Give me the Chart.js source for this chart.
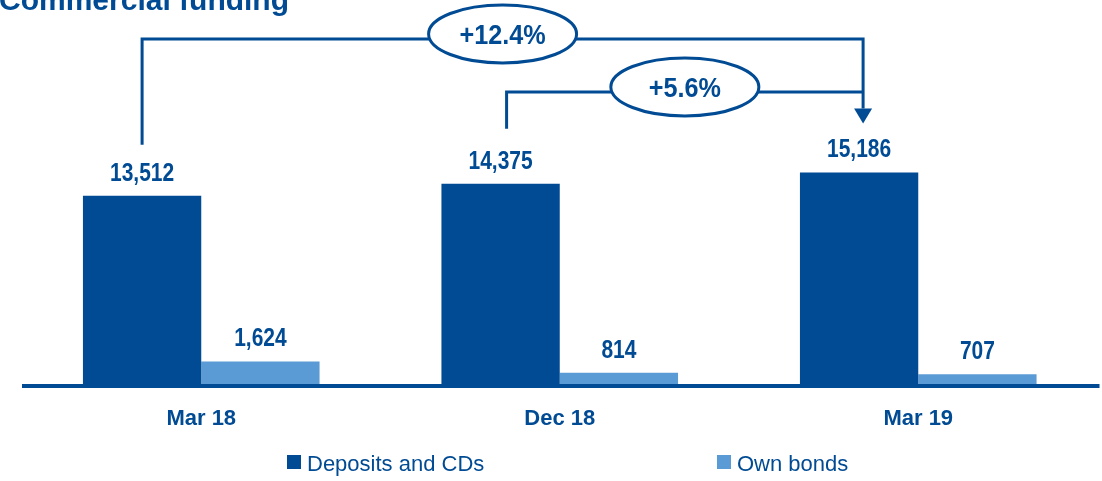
<!DOCTYPE html>
<html>
<head>
<meta charset="utf-8">
<script src="https://cdn.jsdelivr.net/npm/chart.js@4.4.1/dist/chart.umd.min.js"></script>
<style>
  body { margin: 0; background: #fff; }
  #wrap { width: 1102px; height: 481px; }
</style>
</head>
<body>
<div id="wrap"><canvas id="bar-chart" width="1102" height="481"></canvas></div>
<script>
const periods = ['Mar 18', 'Dec 18', 'Mar 19'];
const deposits = [13512, 14375, 15186];
const ownBonds = [1624, 814, 707];
const seriesNames = ['Deposits and CDs', 'Own bonds'];
const growthLabels = ['+12.4%', '+5.6%'];

const darkBlue = '#004B93';
const lightBlue = '#5B9BD5';
const sans = '"Liberation Sans", Arial, sans-serif';

// narrow-looking bold text: squeeze Liberation Sans horizontally
function narrowText(ctx, text, x, y, size, squeeze) {
  ctx.save();
  ctx.translate(x, y);
  ctx.scale(squeeze || 0.84, 1);
  ctx.font = 'bold ' + size + 'px ' + sans;
  ctx.textAlign = 'center';
  ctx.textBaseline = 'middle';
  ctx.fillText(text, 0, 0);
  ctx.restore();
}

function bubble(ctx, cx, cy, text) {
  ctx.beginPath();
  ctx.ellipse(cx, cy - 5, 74, 29, 0, 0, Math.PI * 2);
  ctx.fillStyle = '#fff';
  ctx.fill();
  ctx.stroke();
  ctx.fillStyle = darkBlue;
  narrowText(ctx, text, cx, cy - 3, 28, 0.9);
}

const overlay = {
  id: 'overlay',
  afterDatasetsDraw(chart) {
    const ctx = chart.ctx;
    const area = chart.chartArea;
    ctx.save();
    // base line
    ctx.fillStyle = darkBlue;
    ctx.fillRect(area.left, area.bottom, area.right - area.left + 2, 4);

    // value labels
    chart.data.datasets.forEach((ds, d) => {
      chart.getDatasetMeta(d).data.forEach((bar, i) => {
        narrowText(ctx, ds.data[i].toLocaleString('en-US'), bar.x, bar.y - 22, 25);
      });
    });

    // growth brackets
    const dep = chart.getDatasetMeta(0).data;
    const xEnd = dep[2].x + 4;
    const tipY = dep[2].y - 49;
    ctx.strokeStyle = darkBlue;
    ctx.lineWidth = 3;

    const x1 = dep[0].x;
    const top1 = 39;
    ctx.beginPath();
    ctx.moveTo(x1, dep[0].y - 51);
    ctx.lineTo(x1, top1);
    ctx.lineTo(xEnd, top1);
    ctx.lineTo(xEnd, tipY - 15);
    ctx.stroke();
    ctx.beginPath();
    ctx.moveTo(xEnd - 9, tipY - 15);
    ctx.lineTo(xEnd + 9, tipY - 15);
    ctx.lineTo(xEnd, tipY);
    ctx.closePath();
    ctx.fillStyle = darkBlue;
    ctx.fill();

    const x2 = dep[1].x + 6;
    const top2 = 92;
    ctx.beginPath();
    ctx.moveTo(x2, dep[1].y - 55);
    ctx.lineTo(x2, top2);
    ctx.lineTo(xEnd, top2);
    ctx.stroke();

    bubble(ctx, (x1 + xEnd) / 2, top1, growthLabels[0]);
    bubble(ctx, (x2 + xEnd) / 2, top2, growthLabels[1]);

    // title (clipped at the top like the source slide)
    ctx.fillStyle = darkBlue;
    ctx.font = 'bold 30px ' + sans;
    ctx.textAlign = 'left';
    ctx.textBaseline = 'alphabetic';
    ctx.fillText('Commercial funding', -1, 10);

    // legend
    const legendX = [287, 717];
    const colors = [darkBlue, lightBlue];
    ctx.font = '22px ' + sans;
    seriesNames.forEach((name, i) => {
      ctx.fillStyle = colors[i];
      ctx.fillRect(legendX[i], 455, 14, 14);
      ctx.fillStyle = darkBlue;
      ctx.fillText(name, legendX[i] + 20, 471);
    });
    ctx.restore();
  }
};

new Chart(document.getElementById('bar-chart'), {
  type: 'bar',
  data: {
    labels: periods,
    datasets: [
      {
        label: seriesNames[0],
        data: deposits,
        backgroundColor: darkBlue,
        barPercentage: 1,
        categoryPercentage: 0.66
      },
      {
        label: seriesNames[1],
        data: ownBonds,
        backgroundColor: lightBlue,
        barPercentage: 1,
        categoryPercentage: 0.66
      }
    ]
  },
  options: {
    responsive: false,
    animation: false,
    layout: { padding: { left: 22, right: 4.5, top: 0, bottom: 47 } },
    plugins: {
      legend: { display: false },
      tooltip: { enabled: false }
    },
    scales: {
      x: {
        grid: { display: false, drawTicks: false },
        border: { display: false },
        afterFit(scale) { scale.height = 50; },
        ticks: {
          color: darkBlue,
          padding: 22,
          font: { family: sans, size: 22, weight: 'bold' }
        }
      },
      y: { display: false, min: 0, max: 27570 }
    }
  },
  plugins: [overlay]
});
</script>
</body>
</html>
